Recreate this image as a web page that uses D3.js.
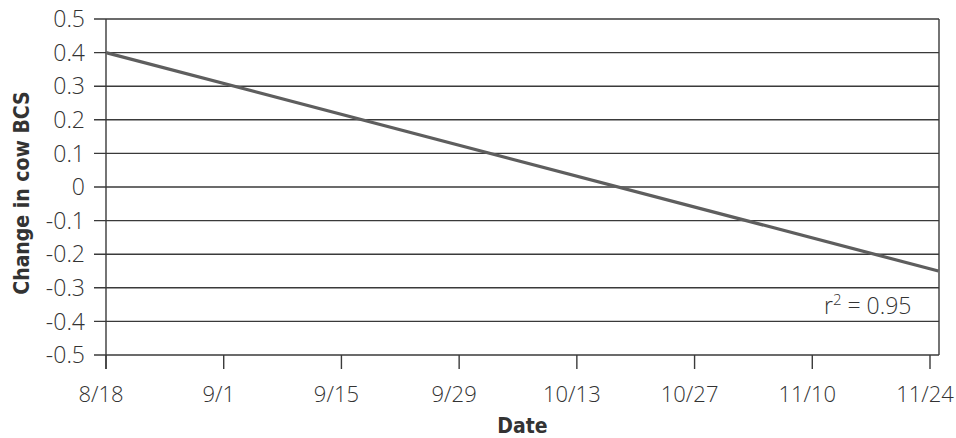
<!DOCTYPE html>
<html>
<head>
<meta charset="utf-8">
<script src="https://cdn.jsdelivr.net/npm/d3@7"></script>
<style>
	body { margin: 0; background: #fff; }
	svg text { font-family: "Open Sans", "Noto Sans", sans-serif; fill: #333; }
	svg .title { font-family: "DejaVu Sans Condensed", "Open Sans", sans-serif; font-weight: bold; fill: #333; }
</style>
</head>
<body>
<div id="chart"></div>
<script>

// fitted trend line, start and end points
var lineDates = ["2000-08-18", "2000-11-25"];
var lineValues = [0.4, -0.25];

// axis ticks
var xTickDates = ["2000-08-18", "2000-09-01", "2000-09-15", "2000-09-29", "2000-10-13", "2000-10-27", "2000-11-10", "2000-11-24"];
var yTicks = [0.5, 0.4, 0.3, 0.2, 0.1, 0, -0.1, -0.2, -0.3, -0.4, -0.5];

var rSquared = "0.95";

var width = 956,
	height = 438,
	margin = {top: 19, right: 17, bottom: 83, left: 106};

var parse = d3.timeParse("%Y-%m-%d"),
	fmt = d3.timeFormat("%-m/%-d");

var svg = d3.select("#chart").append("svg")
	.attr("width", width)
	.attr("height", height);

var x = d3.scaleTime()
	.domain([parse(xTickDates[0]), parse(xTickDates[xTickDates.length - 1])])
	.range([margin.left, 930]);

var y = d3.scaleLinear()
	.domain([-0.5, 0.5])
	.range([height - margin.bottom, margin.top]);

var plotRight = width - margin.right;

// horizontal grid lines (with small left tick)
svg.append("g")
	.selectAll("line")
	.data(yTicks)
	.enter().append("line")
		.attr("x1", margin.left - 12)
		.attr("x2", plotRight)
		.attr("y1", function(d) { return y(d); })
		.attr("y2", function(d) { return y(d); })
		.attr("stroke", "#3a3a3a")
		.attr("stroke-width", 1.4);

// y labels, plain hyphen for negatives like the print
svg.append("g")
	.selectAll("text")
	.data(yTicks)
	.enter().append("text")
		.attr("x", margin.left - 21)
		.attr("y", function(d) { return y(d); })
		.attr("dy", "0.36em")
		.attr("text-anchor", "end")
		.attr("font-size", "23px")
		.attr("font-weight", 300)
		.text(function(d) { return d === 0 ? "0" : d3.format(".1f")(d).replace("\u2212", "-"); });

// left axis + right frame
svg.append("line")
	.attr("x1", margin.left).attr("x2", margin.left)
	.attr("y1", margin.top).attr("y2", y(-0.5) + 14)
	.attr("stroke", "#3a3a3a").attr("stroke-width", 1.4);

svg.append("line")
	.attr("x1", plotRight).attr("x2", plotRight)
	.attr("y1", margin.top).attr("y2", y(-0.5))
	.attr("stroke", "#3a3a3a").attr("stroke-width", 1.4);

// x axis ticks and labels
var xt = svg.append("g")
	.selectAll("g")
	.data(xTickDates.map(parse))
	.enter().append("g")
		.attr("transform", function(d) { return "translate(" + x(d) + ",0)"; });

xt.append("line")
	.attr("y1", y(-0.5))
	.attr("y2", y(-0.5) + 14)
	.attr("stroke", "#3a3a3a")
	.attr("stroke-width", 1.4);

xt.append("text")
	.attr("y", 402)
	.attr("dx", -5)
	.attr("text-anchor", "middle")
	.attr("font-size", "22px")
	.attr("font-weight", 300)
	.text(function(d) { return fmt(d); });

// trend line
var line = d3.line()
	.x(function(d) { return x(d.date); })
	.y(function(d) { return y(d.value); });

svg.append("path")
	.datum(lineDates.map(function(d, i) { return {date: parse(d), value: lineValues[i]}; }))
	.attr("d", line)
	.attr("fill", "none")
	.attr("stroke", "#5e5e5e")
	.attr("stroke-width", 3.2);

// r-squared label
var rt = svg.append("text")
	.attr("x", 824)
	.attr("y", 314)
	.attr("font-size", "23px")
	.attr("font-weight", 300);
rt.append("tspan").text("r");
rt.append("tspan").attr("dy", -9).attr("font-size", "15px").text("2");
rt.append("tspan").attr("dy", 9).text(" = " + rSquared);

// axis titles
svg.append("text")
	.attr("class", "title")
	.attr("x", (margin.left + plotRight) / 2)
	.attr("y", 433)
	.attr("text-anchor", "middle")
	.attr("font-size", "21px")
	.text("Date");

svg.append("text")
	.attr("class", "title")
	.attr("transform", "translate(22,193) rotate(-90)")
	.attr("dy", "0.35em")
	.attr("text-anchor", "middle")
	.attr("font-size", "21px")
	.text("Change in cow BCS");

</script>
</body>
</html>
